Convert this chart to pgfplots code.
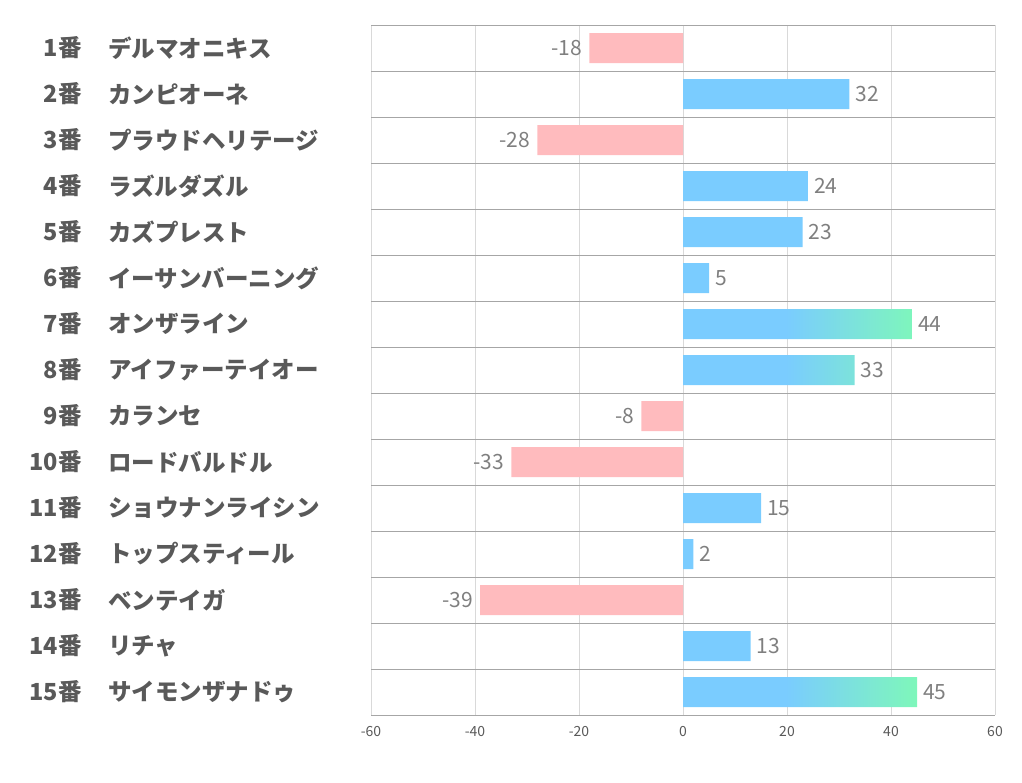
\documentclass[border=0pt]{standalone}
\usepackage{pgfplots}
\usepackage{pgfplotstable}
\pgfplotsset{compat=1.18}
\usepackage{fontspec}
\setmainfont{Noto Sans CJK JP}
\definecolor{pinkbar}{HTML}{FFBBBE}
\definecolor{bluebar}{HTML}{7ACCFF}
\definecolor{greenbar}{HTML}{7EF7BA}
\definecolor{labelgray}{HTML}{595959}
\definecolor{valgray}{HTML}{7F7F7F}
\definecolor{hgrid}{HTML}{A6A6A6}
\definecolor{vgrid}{HTML}{D9D9D9}
\pgfdeclarehorizontalshading{bluegreen}{100bp}{color(0bp)=(bluebar); color(47bp)=(bluebar); color(75bp)=(greenbar); color(100bp)=(greenbar)}

\pgfplotstableread{
y x
1 -18
3 -28
9 -8
10 -33
13 -39
}\pinkdata
\pgfplotstableread{
y x
2 32
4 24
5 23
6 5
11 15
12 2
14 13
}\bluedata
\pgfplotstableread{
y x
7 44
8 33
15 45
}\graddata

\begin{document}
\begin{tikzpicture}
\useasboundingbox (0,0) rectangle (1022pt,-782pt);
\begin{axis}[
  anchor=north west, at={(371pt,-25pt)},
  width=624pt, height=690pt, scale only axis,
  xmin=-60, xmax=60, ymin=0.5, ymax=15.5, y dir=reverse,
  xtick={-60,-40,...,60},
  ytick={0.5,1.5,...,15.5}, yticklabel={\mbox{}},
  xmajorgrids, ymajorgrids,
  major x grid style={vgrid, line width=0.8pt},
  major y grid style={hgrid, line width=0.8pt},
  axis line style={draw=none},
  major tick length=0pt,
  /pgf/number format/assume math mode=true,
  xticklabel style={font=\fontsize{14}{14}\selectfont, text=labelgray, yshift=-8pt},
  clip=false,
  xbar, bar shift=0pt, bar width=30pt,
  point meta=x,
  nodes near coords={\pgfmathprintnumber[assume math mode=true]{\pgfplotspointmeta}},
]
\addplot[draw=none, fill=pinkbar,
  every node near coord/.append style={anchor=east, inner sep=0pt, xshift=-7pt, text=valgray, font=\fontsize{21}{21}\selectfont}]
  table[x=x, y=y] {\pinkdata};
\addplot[draw=none, fill=bluebar,
  every node near coord/.append style={anchor=west, inner sep=0pt, xshift=6pt, text=valgray, font=\fontsize{21}{21}\selectfont}]
  table[x=x, y=y] {\bluedata};
\addplot[draw=none, shade, shading=bluegreen,
  every node near coord/.append style={anchor=west, inner sep=0pt, xshift=6pt, text=valgray, font=\fontsize{21}{21}\selectfont}]
  table[x=x, y=y] {\graddata};

\tikzset{lab/.style={inner sep=0pt, text=labelgray, font=\fontsize{23.5}{23.5}\selectfont\bfseries}}
\node[lab, anchor=east] at ([xshift=-289pt]axis cs:-60,1) {1番};
\node[lab, anchor=east] at ([xshift=-289pt]axis cs:-60,2) {2番};
\node[lab, anchor=east] at ([xshift=-289pt]axis cs:-60,3) {3番};
\node[lab, anchor=east] at ([xshift=-289pt]axis cs:-60,4) {4番};
\node[lab, anchor=east] at ([xshift=-289pt]axis cs:-60,5) {5番};
\node[lab, anchor=east] at ([xshift=-289pt]axis cs:-60,6) {6番};
\node[lab, anchor=east] at ([xshift=-289pt]axis cs:-60,7) {7番};
\node[lab, anchor=east] at ([xshift=-289pt]axis cs:-60,8) {8番};
\node[lab, anchor=east] at ([xshift=-289pt]axis cs:-60,9) {9番};
\node[lab, anchor=east] at ([xshift=-289pt]axis cs:-60,10) {10番};
\node[lab, anchor=east] at ([xshift=-289pt]axis cs:-60,11) {11番};
\node[lab, anchor=east] at ([xshift=-289pt]axis cs:-60,12) {12番};
\node[lab, anchor=east] at ([xshift=-289pt]axis cs:-60,13) {13番};
\node[lab, anchor=east] at ([xshift=-289pt]axis cs:-60,14) {14番};
\node[lab, anchor=east] at ([xshift=-289pt]axis cs:-60,15) {15番};
\node[lab, anchor=west] at ([xshift=-263pt]axis cs:-60,1) {デルマオニキス};
\node[lab, anchor=west] at ([xshift=-263pt]axis cs:-60,2) {カンピオーネ};
\node[lab, anchor=west] at ([xshift=-263pt]axis cs:-60,3) {プラウドヘリテージ};
\node[lab, anchor=west] at ([xshift=-263pt]axis cs:-60,4) {ラズルダズル};
\node[lab, anchor=west] at ([xshift=-263pt]axis cs:-60,5) {カズプレスト};
\node[lab, anchor=west] at ([xshift=-263pt]axis cs:-60,6) {イーサンバーニング};
\node[lab, anchor=west] at ([xshift=-263pt]axis cs:-60,7) {オンザライン};
\node[lab, anchor=west] at ([xshift=-263pt]axis cs:-60,8) {アイファーテイオー};
\node[lab, anchor=west] at ([xshift=-263pt]axis cs:-60,9) {カランセ};
\node[lab, anchor=west] at ([xshift=-263pt]axis cs:-60,10) {ロードバルドル};
\node[lab, anchor=west] at ([xshift=-263pt]axis cs:-60,11) {ショウナンライシン};
\node[lab, anchor=west] at ([xshift=-263pt]axis cs:-60,12) {トップスティール};
\node[lab, anchor=west] at ([xshift=-263pt]axis cs:-60,13) {ベンテイガ};
\node[lab, anchor=west] at ([xshift=-263pt]axis cs:-60,14) {リチャ};
\node[lab, anchor=west] at ([xshift=-263pt]axis cs:-60,15) {サイモンザナドゥ};
\end{axis}
\end{tikzpicture}
\end{document}
